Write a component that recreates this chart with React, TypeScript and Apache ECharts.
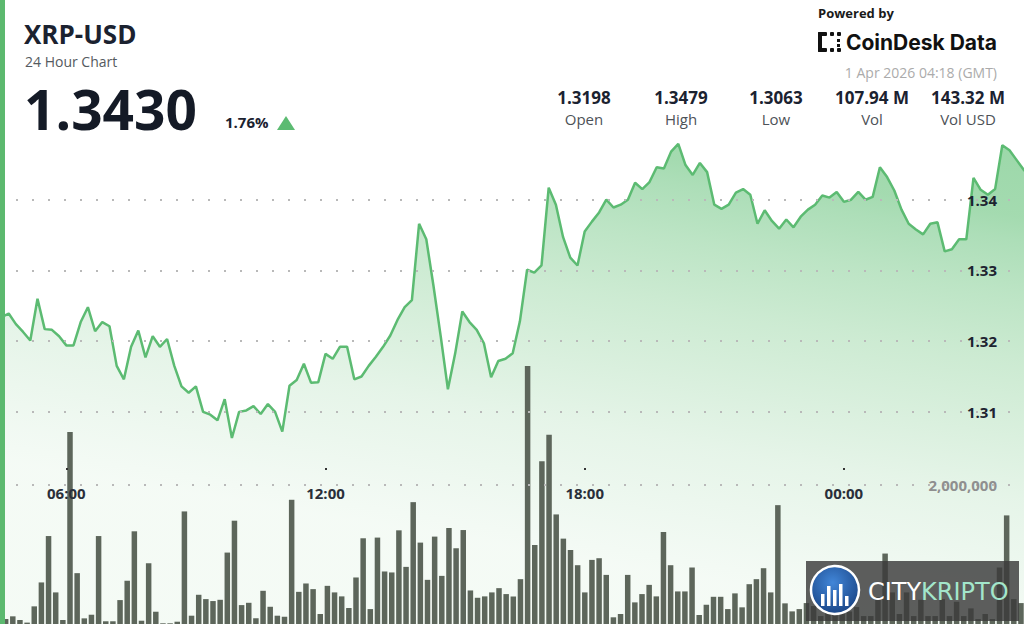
import React, { useEffect, useRef } from 'react';
import * as echarts from 'echarts';

// 10-minute closes, 04:30 (day 1) -> 04:20 (day 2)
const price = [
  1.3234, 1.3239, 1.3224, 1.3213, 1.3201, 1.326, 1.3217, 1.3216, 1.3207, 1.3194,
  1.3194, 1.3227, 1.3248, 1.3214, 1.3227, 1.3221, 1.3165, 1.3146, 1.3192, 1.3215,
  1.3177, 1.3207, 1.3192, 1.3203, 1.3165, 1.3136, 1.3127, 1.3136, 1.31, 1.3096,
  1.3088, 1.3118, 1.3063, 1.31, 1.3102, 1.3108, 1.3097, 1.3111, 1.31, 1.3072,
  1.3137, 1.3145, 1.3168, 1.3141, 1.3142, 1.3182, 1.3175, 1.3192, 1.3192, 1.3146,
  1.315, 1.3165, 1.3178, 1.3192, 1.3208, 1.323, 1.3248, 1.3258, 1.3366, 1.3344,
  1.3278, 1.3207, 1.3132, 1.3182, 1.3242, 1.3227, 1.3216, 1.3197, 1.3149, 1.3172,
  1.3175, 1.3183, 1.3228, 1.3301, 1.3297, 1.3307, 1.3417, 1.3393, 1.3347, 1.3318,
  1.3307, 1.3355, 1.3369, 1.3382, 1.34, 1.3389, 1.3393, 1.34, 1.3424, 1.3415,
  1.3425, 1.3446, 1.3444, 1.3468, 1.3479, 1.3449, 1.3435, 1.3452, 1.3439, 1.3393,
  1.3387, 1.3393, 1.341, 1.3415, 1.3407, 1.3366, 1.3385, 1.337, 1.3359, 1.3372,
  1.3361, 1.3376, 1.3386, 1.3393, 1.3406, 1.3403, 1.3411, 1.3397, 1.34, 1.3411,
  1.34, 1.3404, 1.3446, 1.3432, 1.3413, 1.3386, 1.3366, 1.3358, 1.3351, 1.3366,
  1.3368, 1.3327, 1.333, 1.3344, 1.3344, 1.3431, 1.3414, 1.3407, 1.3415, 1.3477,
  1.347, 1.3456, 1.3442, 1.343,
];

// 10-minute volumes (XRP)
const volume = [
  70000, 110000, 57000, 20000, 253000, 596000, 1261000, 453000, 57000, 2753000,
  729000, 81000, 133000, 1261000, 39000, 39000, 343000, 619000, 1329000, 47000,
  871000, 176000, 10000, 10000, 33000, 1614000, 119000, 419000, 357000, 329000,
  347000, 1024000, 1481000, 271000, 304000, 81000, 476000, 247000, 119000, 104000,
  1781000, 461000, 581000, 500000, 143000, 547000, 453000, 396000, 229000, 667000,
  1229000, 214000, 1239000, 753000, 739000, 1343000, 819000, 1747000, 1167000, 633000,
  1253000, 690000, 1376000, 1086000, 1347000, 481000, 376000, 396000, 453000, 514000,
  429000, 396000, 643000, 3700000, 1133000, 2333000, 2714000, 1571000, 1224000, 1061000,
  843000, 453000, 919000, 943000, 704000, 96000, 143000, 704000, 310000, 429000,
  561000, 396000, 1319000, 843000, 467000, 467000, 810000, 129000, 276000, 390000,
  390000, 214000, 439000, 239000, 571000, 643000, 800000, 453000, 1704000, 296000,
  181000, 214000, 300000, 257000, 114000, 200000, 150000, 250000, 180000, 243000,
  114000, 114000, 381000, 1010000, 453000, 143000, 453000, 114000, 347000, 114000,
  114000, 357000, 114000, 319000, 114000, 224000, 71000, 143000, 71000, 810000,
  1557000, 357000, 300000,
];

const startHour = 4.5;
const stepHours = 1 / 6;
const hourTicks = [6, 12, 18, 24];
const priceLevels = [1.31, 1.32, 1.33, 1.34];
const volumeLevels = [2000000];

const symbolName = 'XRP-USD';
const subtitle = '24 Hour Chart';
const lastPrice = '1.3430';
const changePct = '1.76%';
const statValues = ['1.3198', '1.3479', '1.3063', '107.94 M', '143.32 M'];
const statLabels = ['Open', 'High', 'Low', 'Vol', 'Vol USD'];
const dateText = '1 Apr 2026 04:18 (GMT)';

const statX = [584, 681, 776, 872, 968];
const FONT = '"Open Sans", "Noto Sans", sans-serif';
const GREEN = '#5cbb72';

function buildOption() {
  const lineData = price.map((p, i) => [startHour + i * stepHours, p]);
  const barData = volume.map((v, i) => [startHour + (i + 0.5) * stepHours, v]);

  const dotted = { type: [2, 14] as any, color: '#b9b9b9', width: 2 };

  const graphic: any[] = [
    { type: 'rect', z: 100, shape: { x: 0, y: 0, width: 5, height: 624 }, style: { fill: '#5cb96f' } },
    { type: 'text', z: 100, x: 24, y: 34, style: { text: symbolName, font: `bold 26px ${FONT}`, fill: '#1b2230', textVerticalAlign: 'middle' } },
    { type: 'text', z: 100, x: 25, y: 61.2, style: { text: subtitle, font: `14px ${FONT}`, fill: '#555a60', textVerticalAlign: 'middle' } },
    { type: 'text', z: 100, x: 24, y: 108.5, style: { text: lastPrice, font: `bold 55px ${FONT}`, fill: '#141a26', textVerticalAlign: 'middle' } },
    { type: 'text', z: 100, x: 225, y: 122, style: { text: changePct, font: `bold 15px ${FONT}`, fill: '#1b2230', textVerticalAlign: 'middle' } },
    { type: 'polygon', z: 100, shape: { points: [[277, 130], [295, 130], [286, 116]] }, style: { fill: GREEN } },
    { type: 'text', z: 100, x: 818, y: 13, style: { text: 'Powered by', font: `bold 13px ${FONT}`, fill: '#1a1a1a', textVerticalAlign: 'middle' } },
    // CoinDesk icon
    { type: 'rect', z: 100, shape: { x: 818, y: 32, width: 4, height: 20, r: 1 }, style: { fill: '#111' } },
    { type: 'rect', z: 100, shape: { x: 818, y: 32, width: 9, height: 4, r: 1 }, style: { fill: '#111' } },
    { type: 'rect', z: 100, shape: { x: 818, y: 48, width: 9, height: 4, r: 1 }, style: { fill: '#111' } },
    { type: 'rect', z: 100, shape: { x: 830, y: 32, width: 4, height: 4, r: 1 }, style: { fill: '#111' } },
    { type: 'rect', z: 100, shape: { x: 837, y: 32, width: 4, height: 4, r: 1 }, style: { fill: '#111' } },
    { type: 'rect', z: 100, shape: { x: 830, y: 48, width: 4, height: 4, r: 1 }, style: { fill: '#111' } },
    { type: 'rect', z: 100, shape: { x: 837, y: 48, width: 4, height: 4, r: 1 }, style: { fill: '#111' } },
    { type: 'rect', z: 100, shape: { x: 837, y: 39, width: 3, height: 3 }, style: { fill: '#111' } },
    { type: 'rect', z: 100, shape: { x: 837, y: 44, width: 3, height: 3 }, style: { fill: '#111' } },
    { type: 'text', z: 100, x: 997, y: 42, style: { text: 'CoinDesk Data', font: `bold 21px Inter, ${FONT}`, fill: '#111', textAlign: 'right', textVerticalAlign: 'middle' } },
    { type: 'text', z: 100, x: 997, y: 72, style: { text: dateText, font: `14px ${FONT}`, fill: '#ababab', textAlign: 'right', textVerticalAlign: 'middle' } },
  ];
  statValues.forEach((v, i) => {
    graphic.push({ type: 'text', z: 100, x: statX[i], y: 97, style: { text: v, font: `bold 17px ${FONT}`, fill: '#1b2230', textAlign: 'center', textVerticalAlign: 'middle' } });
    graphic.push({ type: 'text', z: 100, x: statX[i], y: 119, style: { text: statLabels[i], font: `15px ${FONT}`, fill: '#4d5257', textAlign: 'center', textVerticalAlign: 'middle' } });
  });
  // watermark
  graphic.push(
    { type: 'rect', z: 200, shape: { x: 806, y: 561, width: 213, height: 60 }, style: { fill: 'rgba(58,58,58,0.82)' } },
    {
      type: 'circle', z: 201, shape: { cx: 835, cy: 590, r: 24 },
      style: {
        fill: new echarts.graphic.RadialGradient(0.45, 0.35, 0.75, [
          { offset: 0, color: '#4186d8' },
          { offset: 1, color: '#153d7c' },
        ]),
        stroke: '#ffffff', lineWidth: 2.5,
      },
    },
    { type: 'rect', z: 202, shape: { x: 821, y: 594, width: 3.5, height: 12 }, style: { fill: '#fff' } },
    { type: 'rect', z: 202, shape: { x: 827, y: 586, width: 3.5, height: 20 }, style: { fill: '#fff' } },
    { type: 'rect', z: 202, shape: { x: 833, y: 590, width: 3.5, height: 16 }, style: { fill: '#fff' } },
    { type: 'rect', z: 202, shape: { x: 839, y: 584, width: 3.5, height: 22 }, style: { fill: '#fff' } },
    { type: 'rect', z: 202, shape: { x: 845, y: 596, width: 3.5, height: 10 }, style: { fill: '#fff' } },
    { type: 'text', z: 202, x: 868, y: 592, style: { text: 'CITY', font: '24px "DejaVu Sans", sans-serif', fill: '#ffffff', textVerticalAlign: 'middle' } },
    { type: 'text', z: 202, x: 921, y: 592, style: { text: 'KRIPTO', font: '24px "DejaVu Sans", sans-serif', fill: '#a3e6cb', textVerticalAlign: 'middle' } },
  );

  return {
    animation: false,
    backgroundColor: '#ffffff',
    textStyle: { fontFamily: FONT },
    grid: [
      { left: 0, right: 0, top: 129, height: 497 },
      { left: 0, right: 0, top: 345, height: 280 },
    ],
    xAxis: [
      {
        type: 'value', gridIndex: 0, min: 4.4653, max: 28.169, offset: -156, z: 10,
        axisLine: { show: false },
        splitLine: { show: false },
        axisTick: { show: true, customValues: hourTicks, length: 2, lineStyle: { color: '#333', width: 2 } },
        axisLabel: {
          customValues: hourTicks, margin: 17,
          formatter: (v: number) => `${String(Math.round(v) % 24).padStart(2, '0')}:00`,
          color: '#2a2f3a', fontWeight: 'bold', fontSize: 15, fontFamily: FONT,
        },
      },
      { type: 'value', gridIndex: 1, min: 4.4516, max: 28.321, show: false },
    ],
    yAxis: [
      {
        type: 'value', gridIndex: 0, position: 'right', min: 1.28, max: 1.35, interval: 0.01, z: 10,
        axisLine: { show: false }, axisTick: { show: false }, splitLine: { show: false },
        axisLabel: {
          inside: true, margin: 27,
          formatter: (v: number) => (priceLevels.some((l) => Math.abs(l - v) < 1e-6) ? v.toFixed(2) : ''),
          color: '#1d2330', fontWeight: 'bold', fontSize: 15, fontFamily: FONT,
        },
      },
      {
        type: 'value', gridIndex: 1, position: 'right', min: 0, max: 4000000, interval: 2000000, z: 10,
        axisLine: { show: false }, axisTick: { show: false }, splitLine: { show: false },
        axisLabel: {
          inside: true, margin: 27,
          formatter: (v: number) => (volumeLevels.includes(v) ? v.toLocaleString('en-US') : ''),
          color: '#8f8f8f', fontWeight: 'bold', fontSize: 15, fontFamily: FONT,
        },
      },
    ],
    series: [
      {
        type: 'line', name: 'Price', xAxisIndex: 0, yAxisIndex: 0, data: lineData,
        symbol: 'none', z: 2,
        lineStyle: { color: GREEN, width: 2.5 },
        areaStyle: {
          origin: 'start',
          color: new echarts.graphic.LinearGradient(1024, 144, 943, 621, [
            { offset: 0, color: '#72c785' },
            { offset: 0.15, color: '#7dcb8e' },
            { offset: 0.2, color: '#8ad09a' },
            { offset: 0.31, color: '#a0d9ac' },
            { offset: 0.45, color: '#b7e2bf' },
            { offset: 0.59, color: '#c9e9cf' },
            { offset: 0.73, color: '#dbf0df' },
            { offset: 0.94, color: '#ecf7ee' },
            { offset: 1, color: '#f0f9f1' },
          ], true),
        },
        markLine: {
          silent: true, symbol: ['none', 'none'], label: { show: false },
          lineStyle: dotted, data: priceLevels.map((v) => ({ yAxis: v })),
        },
      },
      {
        type: 'bar', name: 'Volume', xAxisIndex: 1, yAxisIndex: 1, data: barData,
        barWidth: 5.5, z: 3,
        itemStyle: { color: '#5d665b' },
        markLine: {
          silent: true, symbol: ['none', 'none'], label: { show: false },
          lineStyle: dotted, data: volumeLevels.map((v) => ({ yAxis: v })),
        },
      },
    ],
    graphic,
  };
}

export default function App() {
  const ref = useRef<HTMLDivElement>(null);
  useEffect(() => {
    const chart = echarts.init(ref.current as HTMLDivElement, null, { renderer: 'svg' });
    chart.setOption(buildOption() as any);
    return () => chart.dispose();
  }, []);
  return (
    <div
      ref={ref}
      style={{ position: 'fixed', left: 0, top: 0, width: 1024, height: 624, background: '#fff' }}
    />
  );
}
